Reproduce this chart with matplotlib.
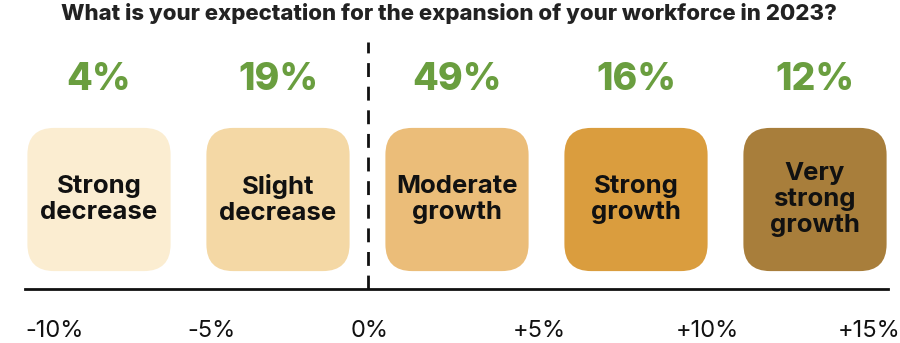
import matplotlib
matplotlib.use("Agg")
import matplotlib.pyplot as plt
from matplotlib.patches import FancyBboxPatch

plt.rcParams['font.family'] = ['Inter', 'DejaVu Sans']

# survey answers, shares in percent
categories = ["Strong\ndecrease", "Slight\ndecrease", "Moderate\ngrowth",
              "Strong\ngrowth", "Very\nstrong\ngrowth"]
shares = [4, 19, 49, 16, 12]
box_colors = ["#fbedd1", "#f4d8a5", "#ebbd79", "#da9d3e", "#a87e3b"]

# scale underneath
scale_ticks = [-10, -5, 0, 5, 10, 15]
scale_labels = ["-10%", "-5%", "0%", "+5%", "+10%", "+15%"]

W, H = 900, 343
fig = plt.figure(figsize=(W / 100, H / 100), dpi=100)

step = 179.0           # px between box centres
x0_px, x1_px = 25, 888 # baseline extent
base_px = 289          # baseline height from top
first_c = 99           # px centre of first box

ax = fig.add_axes([x0_px / W, (H - base_px) / H, (x1_px - x0_px) / W, base_px / H])
ax.set_xlim((x0_px - first_c) / step, (x1_px - first_c) / step)
ax.set_ylim(0, base_px / step)
for s in ["top", "right", "left"]:
    ax.spines[s].set_visible(False)
ax.spines["bottom"].set_linewidth(2.0)
ax.spines["bottom"].set_color("#111111")
ax.set_yticks([])
ax.set_xticks([])

box = 0.8
for i, (cat, share, col) in enumerate(zip(categories, shares, box_colors)):
    patch = FancyBboxPatch((i - box / 2, 0.1), box, box,
                           boxstyle="round,pad=0,rounding_size=0.15",
                           facecolor=col, edgecolor="none")
    ax.add_patch(patch)
    ax.text(i, 0.5, cat, ha="center", va="center", fontsize=18.5,
            fontweight="bold", color="#111111", linespacing=1.15)
    ax.text(i, 1.165, f"{share}%", ha="center", va="center", fontsize=27,
            fontweight="heavy", color="#6a9e3f")

# divider between decrease and growth
ax.plot([1.5, 1.5], [0, 1.38], color="#111111", lw=2.0,
        linestyle=(0, (5, 3.5)), clip_on=False)

# percentage scale on a second x axis
ax2 = ax.twiny()
ax2.set_xlim(-10, -10 + (x1_px - x0_px) / 32.52)
ax2.xaxis.set_ticks_position("bottom")
ax2.set_xticks(scale_ticks)
ax2.set_xticklabels(scale_labels)
ax2.tick_params(axis="x", length=0, pad=22, labelsize=17, labelcolor="#111111")
for lab in ax2.get_xticklabels():
    lab.set_ha("left")
for s in ax2.spines.values():
    s.set_visible(False)

fig.text(449 / W, 1 - 14 / H, "What is your expectation for the expansion of your workforce in 2023?",
         ha="center", va="center", fontsize=16, fontweight="heavy", color="#222222")

fig.savefig("out.png", dpi=100)
